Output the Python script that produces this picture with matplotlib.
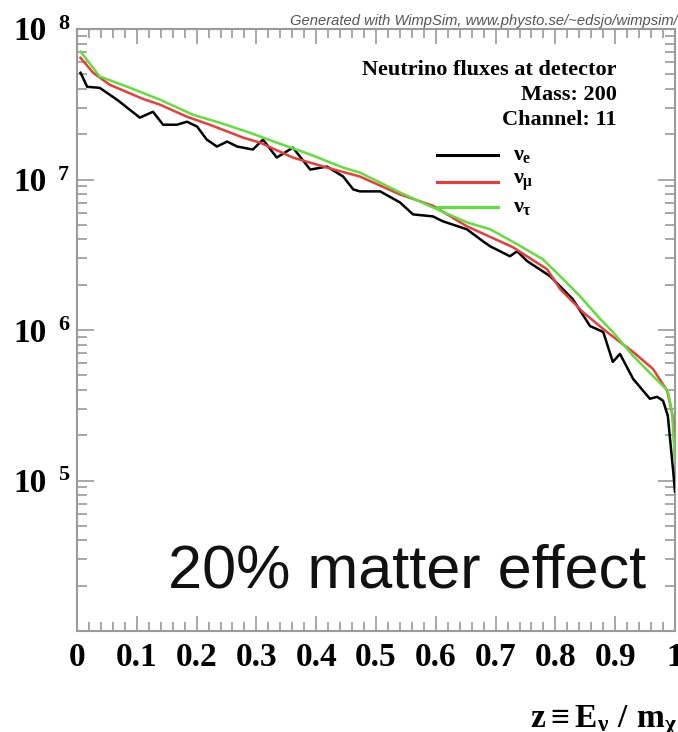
import numpy as np
import matplotlib
matplotlib.use("Agg")
import matplotlib.pyplot as plt
from matplotlib.ticker import MultipleLocator, LogLocator, NullFormatter

plt.rcParams['mathtext.fontset'] = 'custom'
plt.rcParams['mathtext.rm'] = 'Liberation Serif:bold'
plt.rcParams['mathtext.it'] = 'Liberation Serif:bold'
plt.rcParams['mathtext.bf'] = 'Liberation Serif:bold'

# ---- data (z = E_nu / m_chi, log10 of flux) ----
z_tau = [0.006, 0.038, 0.083, 0.139, 0.194, 0.239, 0.289, 0.334, 0.390, 0.445,
         0.473, 0.540, 0.595, 0.652, 0.691, 0.736, 0.779, 0.813, 0.841, 0.875,
         0.896, 0.930, 0.963, 0.988, 0.995, 1.000]
lg_tau = [7.850, 7.684, 7.618, 7.530, 7.430, 7.377, 7.311, 7.245, 7.166, 7.079,
          7.046, 6.914, 6.815, 6.715, 6.669, 6.570, 6.470, 6.338, 6.225, 6.073,
          5.987, 5.828, 5.695, 5.596, 5.457, 5.126]

z_mu = [0.006, 0.027, 0.055, 0.110, 0.139, 0.184, 0.222, 0.278, 0.306, 0.361,
        0.418, 0.473, 0.540, 0.595, 0.652, 0.729, 0.786, 0.808, 0.846, 0.886,
        0.930, 0.963, 0.987, 0.997, 1.000]
lg_mu = [7.808, 7.709, 7.629, 7.536, 7.497, 7.417, 7.364, 7.278, 7.245, 7.146,
         7.079, 7.020, 6.901, 6.826, 6.689, 6.550, 6.404, 6.272, 6.119, 5.987,
         5.854, 5.742, 5.596, 5.411, 5.146]

z_e = [0.006, 0.017, 0.038, 0.067, 0.084, 0.105, 0.127, 0.144, 0.167, 0.184,
       0.201, 0.217, 0.234, 0.251, 0.268, 0.294, 0.311, 0.334, 0.361, 0.390,
       0.418, 0.445, 0.462, 0.473, 0.507, 0.540, 0.562, 0.595, 0.612, 0.652,
       0.679, 0.691, 0.724, 0.736, 0.753, 0.791, 0.829, 0.858, 0.880, 0.896,
       0.908, 0.930, 0.958, 0.970, 0.980, 0.988, 0.997, 1.000]
lg_e = [7.709, 7.616, 7.609, 7.530, 7.477, 7.411, 7.450, 7.364, 7.364, 7.384,
        7.351, 7.265, 7.219, 7.252, 7.219, 7.199, 7.265, 7.146, 7.212, 7.066,
        7.086, 7.020, 6.934, 6.921, 6.921, 6.848, 6.768, 6.755, 6.722, 6.669,
        6.589, 6.556, 6.490, 6.523, 6.457, 6.358, 6.205, 6.026, 5.987, 5.788,
        5.841, 5.675, 5.543, 5.556, 5.530, 5.430, 5.060, 4.927]

x_ticks = [0, 0.1, 0.2, 0.3, 0.4, 0.5, 0.6, 0.7, 0.8, 0.9, 1]
x_ticklabels = ['0', '0.1', '0.2', '0.3', '0.4', '0.5', '0.6', '0.7', '0.8', '0.9', '1']
y_decades = [5, 6, 7, 8]

W, H = 678, 732
fig = plt.figure(figsize=(W / 100, H / 100), dpi=100)
ax = fig.add_axes([77 / W, (H - 631) / H, (675 - 77) / W, (631 - 29) / H])

col_e, col_mu, col_tau = 'black', '#f03a3a', '#5ee03a'
ax.plot(z_e, 10 ** np.array(lg_e), color=col_e, lw=1.8, zorder=3)
ax.plot(z_mu, 10 ** np.array(lg_mu), color=col_mu, lw=1.8, zorder=3)
ax.plot(z_tau, 10 ** np.array(lg_tau), color=col_tau, lw=1.8, zorder=4)

ax.set_yscale('log')
ax.set_xlim(0, 1)
ax.set_ylim(1e4, 1e8)

gray = '#9a9a9a'
for s in ax.spines.values():
    s.set_color(gray)
    s.set_linewidth(1.5)

ax.xaxis.set_minor_locator(MultipleLocator(0.02))
ax.set_xticks(x_ticks)
ax.set_xticklabels(x_ticklabels, fontfamily='Liberation Serif', fontweight='bold', fontsize=24)
ax.yaxis.set_major_locator(LogLocator(base=10, numticks=10))
ax.yaxis.set_minor_locator(LogLocator(base=10, subs=np.arange(2, 10), numticks=20))
ax.yaxis.set_major_formatter(NullFormatter())
ax.yaxis.set_minor_formatter(NullFormatter())
ax.tick_params(which='both', direction='in', top=True, right=True, color=gray, width=1.2)
ax.tick_params(axis='x', which='major', length=11, pad=8)
ax.tick_params(axis='x', which='minor', length=6.5)
ax.tick_params(axis='y', which='major', length=12)
ax.tick_params(axis='y', which='minor', length=7)

# y tick labels "10 ^k"
for k in y_decades:
    ax.annotate('10', xy=(0, 10 ** k), xycoords=('axes fraction', 'data'),
                xytext=(-30, -3), textcoords='offset pixels', ha='right', va='center',
                fontfamily='Liberation Serif', fontweight='bold', fontsize=24)
    ax.annotate(str(k), xy=(0, 10 ** k), xycoords=('axes fraction', 'data'),
                xytext=(-19, 5), textcoords='offset pixels', ha='left', va='center',
                fontfamily='Liberation Serif', fontweight='bold', fontsize=16)

def px(x, y):
    return x / W, 1 - y / H

serif = dict(fontfamily='Liberation Serif', fontweight='bold')
fig.text(*px(617, 70), 'Neutrino fluxes at detector', ha='right', va='center', fontsize=16, **serif)
fig.text(*px(617, 95), 'Mass: 200', ha='right', va='center', fontsize=16, **serif)
fig.text(*px(617, 120), 'Channel: 11', ha='right', va='center', fontsize=16, **serif)

leg_labels = [r'$\nu_{e}$', r'$\nu_{\mu}$', r'$\nu_{\tau}$']
leg_cols = [col_e, col_mu, col_tau]
leg_y = [155, 182, 207]
for lab, c, yy in zip(leg_labels, leg_cols, leg_y):
    fig.add_artist(plt.Line2D([437 / W, 498 / W], [1 - yy / H, 1 - yy / H], color=c, lw=2.2))
    fig.text(*px(513, yy), lab, ha='left', va='center', fontsize=16)

fig.text(*px(290, 21), 'Generated with WimpSim, www.physto.se/~edsjo/wimpsim/',
         ha='left', va='center', fontsize=10.6, style='italic', color='#555555',
         fontfamily='Liberation Sans')

fig.text(*px(168, 587), '20% matter effect', ha='left', va='baseline', fontsize=44,
         fontfamily='Liberation Sans', color='#111111')

fig.text(*px(530, 721), r'$\mathbf{z \equiv E_{\nu}\ /\ m_{\chi}}$', ha='left', va='center',
         fontsize=24)

fig.savefig('out.png', dpi=100)
